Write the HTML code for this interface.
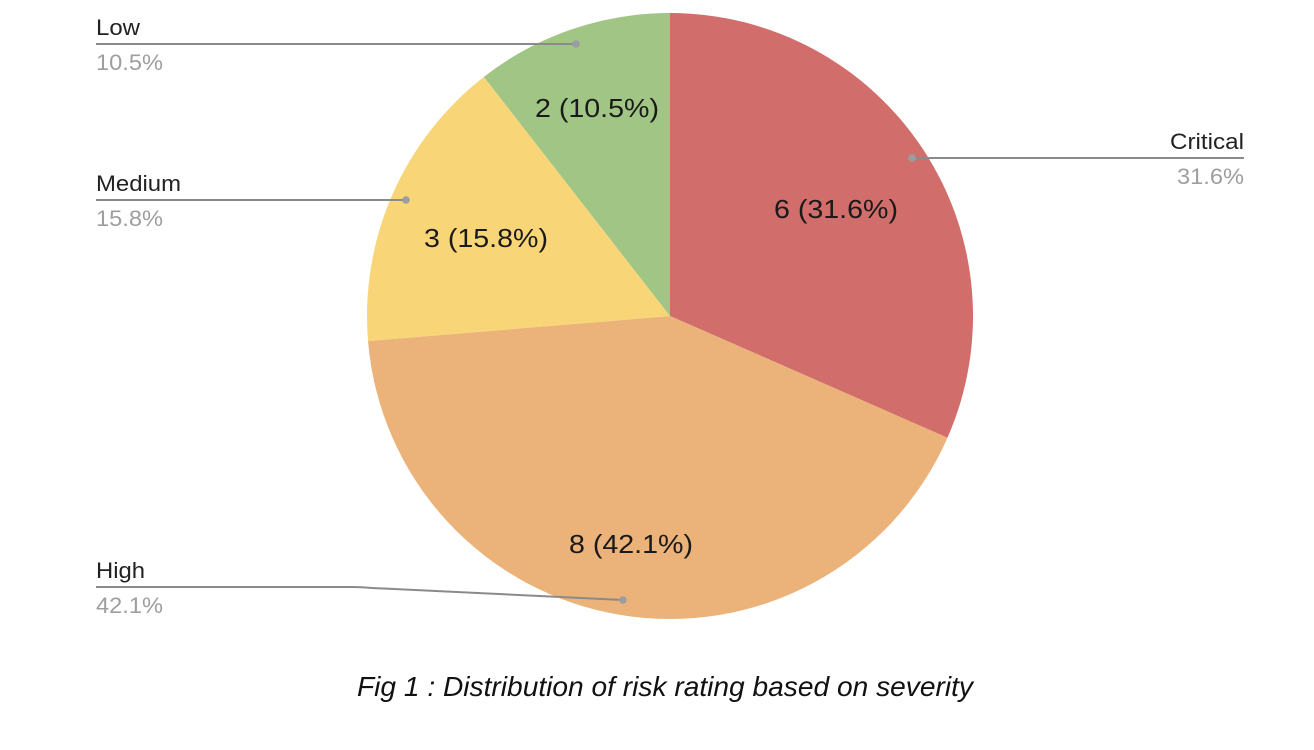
<!DOCTYPE html>
<html>
<head>
<meta charset="utf-8">
<style>
  html, body { margin: 0; padding: 0; background: #ffffff; }
  body { width: 1314px; height: 750px; overflow: hidden; }
  svg { display: block; }
  text { font-family: "Liberation Sans", sans-serif; }
</style>
</head>
<body>
<svg width="1314" height="750" viewBox="0 0 1314 750" xmlns="http://www.w3.org/2000/svg">
  <rect width="1314" height="750" fill="#ffffff"/>

  <!-- Pie slices -->
  <path d="M670,316 L670,13 A303,303 0 0 1 947.48,437.72 Z" fill="#d16d6a"/>
  <path d="M670,316 L947.48,437.72 A303,303 0 0 1 368.04,341.02 Z" fill="#ebb279"/>
  <path d="M670,316 L368.04,341.02 A303,303 0 0 1 483.89,76.89 Z" fill="#f8d678"/>
  <path d="M670,316 L483.89,76.89 A303,303 0 0 1 670,13 Z" fill="#a0c584"/>

  <!-- Slice value labels -->
  <g font-size="26" fill="#1a1a1a" text-anchor="middle">
    <text x="597" y="117" textLength="124" lengthAdjust="spacingAndGlyphs">2 (10.5%)</text>
    <text x="836" y="218" textLength="124" lengthAdjust="spacingAndGlyphs">6 (31.6%)</text>
    <text x="486" y="247" textLength="124" lengthAdjust="spacingAndGlyphs">3 (15.8%)</text>
    <text x="631" y="553" textLength="124" lengthAdjust="spacingAndGlyphs">8 (42.1%)</text>
  </g>

  <!-- Leader lines -->
  <g stroke="#8a8a8a" stroke-width="2" fill="none">
    <line x1="96" y1="44" x2="576" y2="44"/>
    <line x1="96" y1="200" x2="406" y2="200"/>
    <line x1="912" y1="158" x2="1244" y2="158"/>
    <path d="M96,587 L352,587 Q362,587 372,588 L623,600"/>
  </g>
  <g fill="#9a9ea3">
    <circle cx="576" cy="44" r="3.8"/>
    <circle cx="406" cy="200" r="3.8"/>
    <circle cx="912" cy="158" r="3.8"/>
    <circle cx="623" cy="600" r="3.8"/>
  </g>

  <!-- Category labels -->
  <g font-size="22" fill="#222222">
    <text x="96" y="35" textLength="44" lengthAdjust="spacingAndGlyphs">Low</text>
    <text x="96" y="191" textLength="85" lengthAdjust="spacingAndGlyphs">Medium</text>
    <text x="96" y="578" textLength="49" lengthAdjust="spacingAndGlyphs">High</text>
    <text x="1244" y="149" text-anchor="end" textLength="74" lengthAdjust="spacingAndGlyphs">Critical</text>
  </g>
  <g font-size="22" fill="#9e9e9e">
    <text x="96" y="70" textLength="67" lengthAdjust="spacingAndGlyphs">10.5%</text>
    <text x="96" y="226" textLength="67" lengthAdjust="spacingAndGlyphs">15.8%</text>
    <text x="96" y="613" textLength="67" lengthAdjust="spacingAndGlyphs">42.1%</text>
    <text x="1244" y="184" text-anchor="end" textLength="67" lengthAdjust="spacingAndGlyphs">31.6%</text>
  </g>

  <!-- Caption -->
  <text x="357" y="696" font-size="28" font-style="italic" fill="#111111" textLength="616" lengthAdjust="spacingAndGlyphs">Fig 1 : Distribution of risk rating based on severity</text>
</svg>
</body>
</html>
